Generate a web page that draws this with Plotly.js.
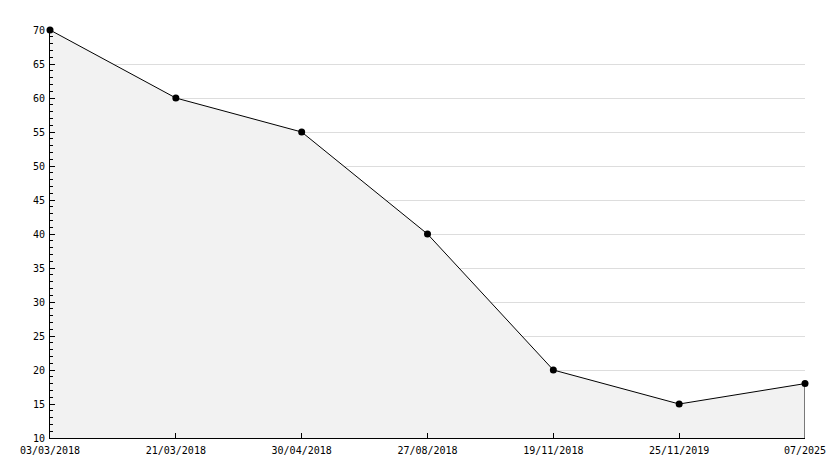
<!DOCTYPE html>
<html>
<head>
<meta charset="utf-8">
<script src="https://cdn.plot.ly/plotly-3.0.1.min.js"></script>
<style>html,body{margin:0;padding:0;background:#fff;}#chart{width:834px;height:468px;}</style>
</head>
<body>
<div id="chart"></div>
<script>
var categories = ["03/03/2018", "21/03/2018", "30/04/2018", "27/08/2018", "19/11/2018", "25/11/2019", "07/2025"];
var values = [70, 60, 55, 40, 20, 15, 18];
var yMin = 10, yMax = 70;

var traces = [
  {
    x: categories, y: values, type: 'scatter', mode: 'lines+markers',
    fill: 'tozeroy', fillcolor: '#f2f2f2',
    line: {color: '#000', width: 1},
    marker: {color: '#000', size: 7, symbol: 'circle'},
    hoverinfo: 'x+y', cliponaxis: false
  },
  {
    x: [categories[categories.length - 1], categories[categories.length - 1]],
    y: [yMin, values[values.length - 1]],
    type: 'scatter', mode: 'lines',
    line: {color: '#000', width: 1}, hoverinfo: 'skip'
  }
];

var font = {family: 'DejaVu Sans Mono, monospace', size: 10, color: '#000'};
var layout = {
  width: 834, height: 468,
  margin: {l: 50, r: 29, t: 30, b: 30},
  paper_bgcolor: '#fff', plot_bgcolor: '#fff',
  showlegend: false,
  font: font,
  xaxis: {
    type: 'category', range: [0, categories.length - 1],
    showgrid: false, zeroline: false,
    showline: true, linecolor: '#000', linewidth: 1,
    ticks: 'inside', ticklen: 5, tickcolor: '#000',
    tickfont: font, ticklabelstandoff: 3, fixedrange: true
  },
  yaxis: {
    range: [yMin, yMax], dtick: 5, tick0: 10,
    showgrid: true, gridcolor: '#dddddd', gridwidth: 1,
    zeroline: false,
    showline: true, linecolor: '#000', linewidth: 1,
    ticks: 'inside', ticklen: 5, tickcolor: '#000',
    minor: {dtick: 1, ticks: 'inside', ticklen: 3, tickcolor: '#000', showgrid: false},
    tickfont: font, ticklabelstandoff: 2, fixedrange: true
  }
};

Plotly.newPlot('chart', traces, layout, {displayModeBar: false, staticPlot: true});
</script>
</body>
</html>
